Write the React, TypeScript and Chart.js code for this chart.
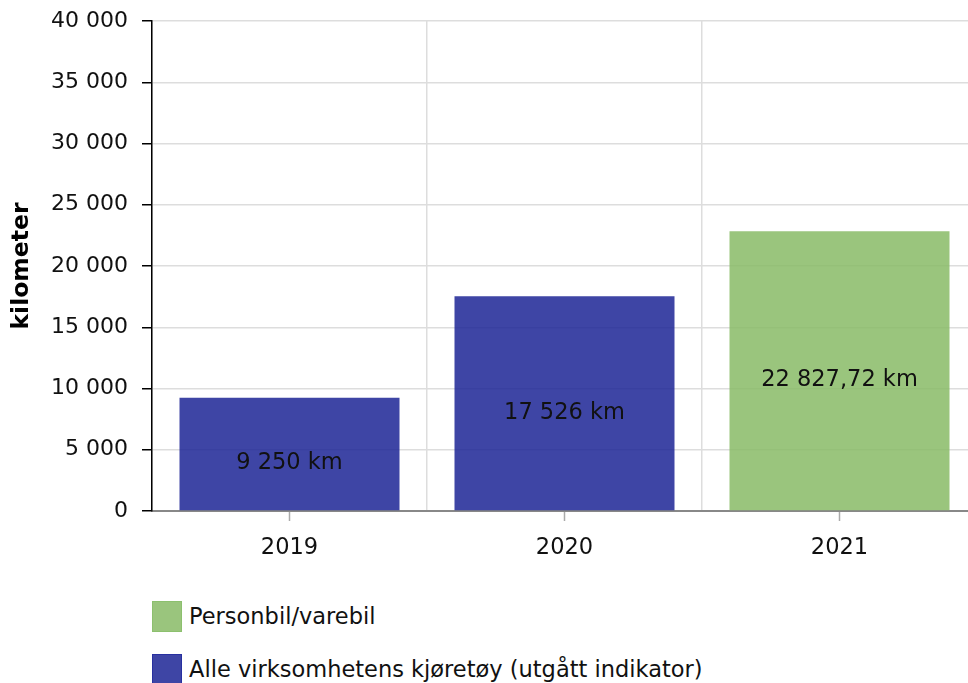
import React, { useEffect, useRef } from "react";
import { Chart, registerables } from "chart.js";

Chart.register(...registerables);

const categories = ["2019", "2020", "2021"];
const personbilValues = [null, null, 22827.72];
const alleValues = [9250, 17526, null];
const seriesNames = ["Personbil/varebil", "Alle virksomhetens kjøretøy (utgått indikator)"];
const yAxisTitle = "kilometer";
const unit = "km";

const FONT = "'DejaVu Sans', Verdana, sans-serif";
const GREEN = "rgba(137,188,104,0.86)";
const GREEN_BORDER = "rgb(140,192,110)";
const BLUE = "rgba(30,38,150,0.86)";
const BLUE_BORDER = "rgb(40,48,160)";

function fmt(v: number): string {
  const hasDec = Math.abs(v % 1) > 1e-9;
  const s = v.toFixed(hasDec ? 2 : 0);
  const [i, d] = s.split(".");
  const g = i.replace(/\B(?=(\d{3})+(?!\d))/g, " ");
  return d ? g + "," + d : g;
}

const labelPlugin = {
  id: "barLabels",
  afterDatasetsDraw(chart: any) {
    const ctx = chart.ctx;
    ctx.save();
    ctx.font = `22.5px ${FONT}`;
    ctx.fillStyle = "#111";
    ctx.textAlign = "center";
    ctx.textBaseline = "middle";
    chart.data.datasets.forEach((ds: any, di: number) => {
      const meta = chart.getDatasetMeta(di);
      meta.data.forEach((el: any, i: number) => {
        const v = ds.data[i];
        if (v === null || v === undefined) return;
        ctx.fillText(`${fmt(v)} ${unit}`, el.x, (el.y + el.base) / 2 + 9.5);
      });
    });
    ctx.restore();
  },
};

const centerTicksPlugin = {
  id: "centerTicks",
  afterDraw(chart: any) {
    const x = chart.scales.x;
    const ctx = chart.ctx;
    ctx.save();
    ctx.strokeStyle = "#aaaaaa";
    ctx.lineWidth = 1.5;
    categories.forEach((_, i) => {
      const px = x.getPixelForValue(i);
      ctx.beginPath();
      ctx.moveTo(px, x.top + 1);
      ctx.lineTo(px, x.top + 10);
      ctx.stroke();
    });
    ctx.restore();
  },
};

export default function App() {
  const ref = useRef<HTMLCanvasElement>(null);
  useEffect(() => {
    if (!ref.current) return;
    const chart = new Chart(ref.current, {
      type: "bar",
      data: {
        labels: categories,
        datasets: [
          {
            label: seriesNames[0],
            data: personbilValues,
            backgroundColor: GREEN,
            borderWidth: 0,
            barPercentage: 0.8,
            categoryPercentage: 1,
          },
          {
            label: seriesNames[1],
            data: alleValues,
            backgroundColor: BLUE,
            borderWidth: 0,
            barPercentage: 0.8,
            categoryPercentage: 1,
          },
        ],
      },
      options: {
        responsive: false,
        animation: false,
        devicePixelRatio: 1,
        layout: { padding: { left: 0, top: 21, right: 13, bottom: 0 } },
        plugins: {
          legend: { display: false },
          tooltip: { enabled: false },
        },
        scales: {
          x: {
            stacked: true,
            offset: true,
            grid: {
              offset: true,
              color: "#dddddd",
              lineWidth: 1.5,
              drawTicks: true,
              tickLength: 10,
              tickColor: "rgba(0,0,0,0)",
            },
            border: { color: "#888888", width: 2 },
            ticks: { font: { family: FONT, size: 22.5 }, color: "#111", padding: 14 },
            afterFit: (s: any) => {
              s.height = 49;
              s.paddingLeft = 0;
              s.paddingRight = 0;
            },
          },
          y: {
            stacked: true,
            min: 0,
            max: 40000,
            ticks: {
              stepSize: 5000,
              font: { family: FONT, size: 22 },
              color: "#111",
              padding: 14,
              callback: (v: any) => fmt(Number(v)),
            },
            grid: {
              color: "#dddddd",
              lineWidth: 1.5,
              tickColor: "#000",
              tickLength: 10,
            },
            border: { color: "#000", width: 1.5 },
            title: {
              display: true,
              text: yAxisTitle,
              font: { family: FONT, size: 23.5, weight: "bold" },
              color: "#000",
              padding: { top: 8, bottom: 0 },
            },
            afterFit: (s: any) => {
              s.width = 152;
              s.paddingTop = 0;
              s.paddingBottom = 0;
            },
          },
        },
      },
      plugins: [labelPlugin, centerTicksPlugin],
    });
    return () => chart.destroy();
  }, []);

  const legendItems = [
    { name: seriesNames[0], fill: GREEN, border: GREEN_BORDER },
    { name: seriesNames[1], fill: BLUE, border: BLUE_BORDER },
  ];

  return (
    <div
      style={{
        position: "absolute",
        left: 0,
        top: 0,
        width: 968,
        height: 683,
        overflow: "hidden",
        background: "#fff",
      }}
    >
      <canvas ref={ref} width={990} height={560} style={{ display: "block" }} />
      <div style={{ position: "absolute", left: 152, top: 600 }}>
        {legendItems.map((it, i) => (
          <div
            key={i}
            style={{
              display: "flex",
              alignItems: "center",
              height: 32,
              marginBottom: 21,
              fontFamily: FONT,
              fontSize: 22.5,
              color: "#111",
              whiteSpace: "nowrap",
            }}
          >
            <span
              style={{
                display: "inline-block",
                width: 28,
                height: 29,
                background: it.fill,
                border: `1.5px solid ${it.border}`,
                marginRight: 7,
              }}
            />
            <span>{it.name}</span>
          </div>
        ))}
      </div>
    </div>
  );
}
